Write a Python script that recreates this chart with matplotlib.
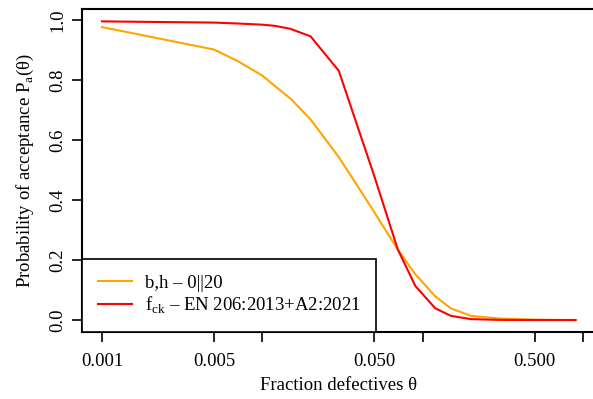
import matplotlib
matplotlib.use("Agg")
import matplotlib.pyplot as plt
import numpy as np

# Fraction defectives and acceptance probabilities
theta = [0.001, 0.005, 0.007, 0.01, 0.012, 0.015, 0.02, 0.03, 0.05,
         0.07, 0.09, 0.12, 0.15, 0.2, 0.3, 0.5, 0.9]
pa_bh = [0.978, 0.903, 0.865, 0.816, 0.781, 0.739, 0.670, 0.544, 0.360,
         0.235, 0.153, 0.079, 0.039, 0.014, 0.005, 0.001, 0.0]
pa_fck = [0.997, 0.993, 0.990, 0.986, 0.982, 0.972, 0.947, 0.832, 0.480,
          0.236, 0.114, 0.039, 0.014, 0.003, 0.0005, 0.0, 0.0]

label_bh = "b,h – 0||20"
label_fck = "f$_\\mathrm{ck}$ – EN 206:2013+A2:2021"

xticks = [0.001, 0.005, 0.01, 0.05, 0.1, 0.5, 1.0]
xticklabels = ["0.001", "0.005", "", "0.050", "", "0.500", ""]
yticks = [0.0, 0.2, 0.4, 0.6, 0.8, 1.0]

plt.rcParams["font.family"] = ["Liberation Serif", "DejaVu Serif"]
plt.rcParams["mathtext.fontset"] = "custom"
plt.rcParams["mathtext.rm"] = "Liberation Serif"
plt.rcParams["font.size"] = 13.5

fig = plt.figure(figsize=(5.93, 3.99), dpi=100)
# plot box runs slightly past the right edge of the image, as in the original
ax = fig.add_axes([82 / 593, (399 - 332) / 399, 514 / 593, 323.5 / 399])

ax.plot(theta, pa_bh, color="orange", lw=1.5, label=label_bh)
ax.plot(theta, pa_fck, color="red", lw=1.5, label=label_fck)

# log axis: 0.001 sits 20 px inside the box, one decade is ~160 px
ax.set_xscale("log")
lo = np.log10(theta[0]) - 20 / 160.3
hi = lo + 514 / 160.3
ax.set_xlim(10 ** lo, 10 ** hi)
ax.set_ylim(-0.04, 1.04)

ax.set_xticks(xticks)
ax.set_xticklabels(xticklabels)
ax.minorticks_off()
ax.set_yticks(yticks)
ax.set_yticklabels([f"{v:.1f}" for v in yticks], rotation=90, va="center")
ax.tick_params(direction="out", length=7, width=1.2, pad=4)
ax.tick_params(axis="x", pad=8)

for s in ax.spines.values():
    s.set_linewidth(1.5)

ax.set_xlabel("Fraction defectives θ", labelpad=5)
ax.set_ylabel("Probability of acceptance P$_\\mathrm{a}$(θ)", labelpad=10)

leg = ax.legend(loc="lower left", borderaxespad=0, fancybox=False,
                edgecolor="black", framealpha=1, handlelength=1.8,
                handletextpad=0.7, borderpad=0.85, labelspacing=0.15)
leg.get_frame().set_linewidth(1.2)

fig.savefig("out.png", dpi=100)
